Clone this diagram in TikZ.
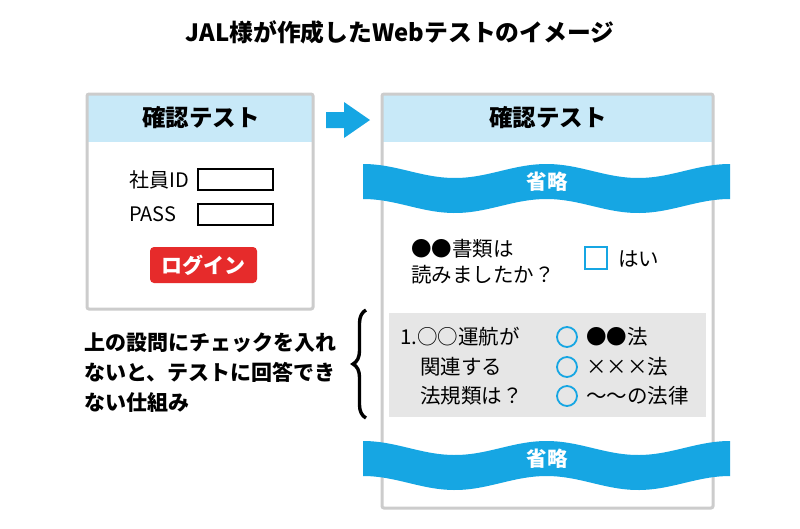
\documentclass[tikz,border=0pt]{standalone}
\usepackage{fontspec}
\setmainfont{Noto Sans CJK JP}
\usetikzlibrary{decorations.pathreplacing}
\definecolor{jblue}{HTML}{16A6E3}
\definecolor{jlight}{HTML}{C8E9F8}
\definecolor{jred}{HTML}{E62B2B}
\definecolor{jgray}{HTML}{CCCCCC}
\definecolor{jfill}{HTML}{E6E6E6}
\newcommand\jalband[2]{%
  \fill[jblue] plot[domain=363:730,samples=90] (\x,{#1+7-7*cos((\x-363)*1.96185)})
    -- plot[domain=730:363,samples=90] (\x,{#1+35+7-7*cos((\x-363)*1.96185)}) -- cycle;
  \node[bandtxt] (#2) at (547,#1+17.5) {省略};
}
\tikzset{
  panel/.style={draw=jgray, line width=3pt, rounded corners=2pt},
  hdr/.style={font=\fontsize{23.5}{23.5}\selectfont\bfseries, inner sep=0pt},
  body/.style={font=\fontsize{20.5}{20.5}\selectfont, inner sep=0pt, anchor=west},
  inbox/.style={draw=black, line width=2pt, minimum width=75pt, minimum height=21pt, inner sep=0pt},
  bandtxt/.style={text=white, font=\fontsize{20.5}{20.5}\selectfont\bfseries, inner sep=0pt},
  choice/.style={draw=jblue, line width=1.8pt, circle, minimum size=20pt, inner sep=0pt},
}
\begin{document}
\begin{tikzpicture}[x=1pt,y=-1pt]
\useasboundingbox[fill=white] (0,0) rectangle (800,528);
% title
\node[font=\fontsize{23.8}{23.8}\selectfont\bfseries, inner sep=0pt] (title) at (400,32) {JAL様が作成したWebテストのイメージ};
% left panel
\fill[jlight] (87,94) rectangle (313,142);
\draw[panel] (87,94) rectangle (313,309);
\node[hdr] (lhead) at (201,118) {確認テスト};
\node[body, font=\fontsize{20}{20}\selectfont] (idlab) at (129,180) {社員ID};
\node[inbox] (idbox) at (235.5,179.5) {};
\node[body, font=\fontsize{20}{20}\selectfont] (passlab) at (129,214) {PASS};
\node[inbox] (passbox) at (235.5,214) {};
\node[fill=jred, rounded corners=4pt, minimum width=107pt, minimum height=36pt, inner sep=0pt,
      text=white, font=\fontsize{21}{21}\selectfont\bfseries] (login) at (203.5,265) {ログイン};
% arrow
\fill[jblue] (326,112) -- (344,112) -- (344,102) -- (370,120) -- (344,138) -- (344,128) -- (326,128) -- cycle;
% right panel
\fill[jlight] (382,94) rectangle (713,142);
\draw[panel] (382,94) rectangle (713,508);
\node[hdr] (rhead) at (548,118) {確認テスト};
\jalband{164}{omit1}
\node[body] (q1a) at (411,249) {●●書類は};
\node[body] (q1b) at (411,275) {読みましたか？};
\node[draw=jblue, line width=2pt, minimum size=22pt, inner sep=0pt] (chk) at (595.5,258) {};
\node[body] (yes) at (618,259) {はい};
% question box
\fill[jfill] (389,313) rectangle (706,417);
\node[body] (q2a) at (400,337) {1.○○運航が};
\node[body] (q2b) at (420,367) {関連する};
\node[body] (q2c) at (420,396) {法規類は？};
\node[choice] (c1) at (567,337) {};
\node[choice] (c2) at (567,367) {};
\node[choice] (c3) at (567,396) {};
\node[body] (o1) at (586,337) {●●法};
\node[body] (o2) at (586,367) {×××法};
\node[body] (o3) at (586,396) {〜〜の法律};
\jalband{441}{omit2}
% brace
\coordinate (bb) at (366,418);
\coordinate (bt) at (366,310);
\draw[decorate, decoration={brace, amplitude=13pt, aspect=0.5}, line width=3.4pt] (bb) -- (bt);
% explanation
\node[anchor=west, align=left, inner sep=0pt, font=\fontsize{21}{30}\selectfont\bfseries] (expl) at (84,373)
  {上の設問にチェックを入れ\\ないと、テストに回答でき\\ない仕組み};
\end{tikzpicture}
\end{document}
